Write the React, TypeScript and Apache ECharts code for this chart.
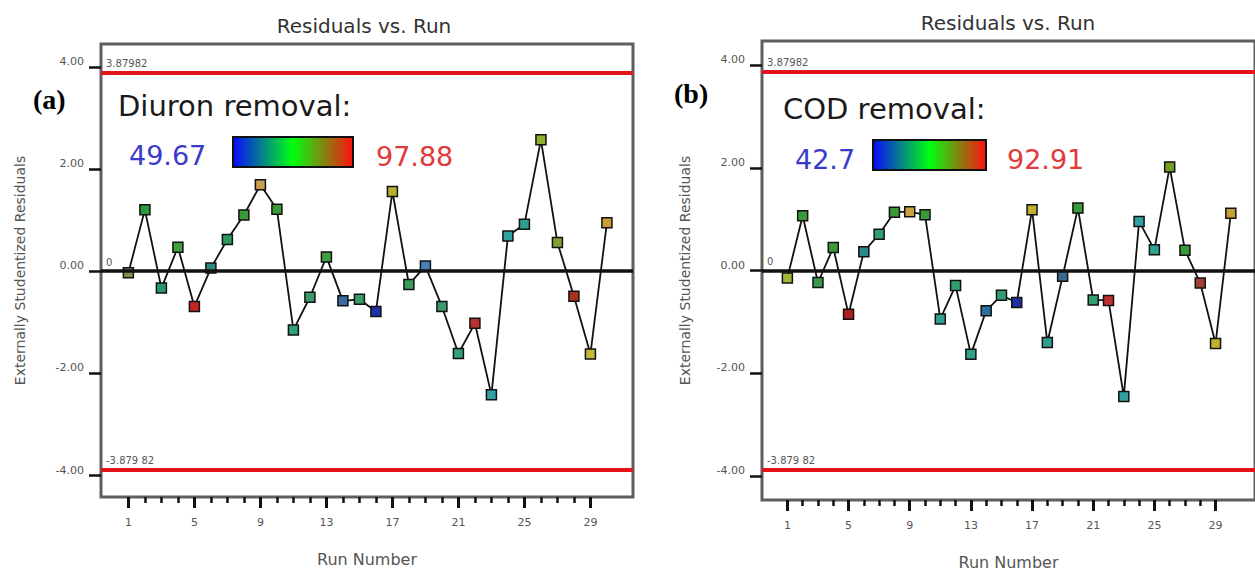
import React, { useEffect, useRef } from "react";
import * as echarts from "echarts";

const runs = [1, 2, 3, 4, 5, 6, 7, 8, 9, 10, 11, 12, 13, 14, 15, 16, 17, 18, 19, 20, 21, 22, 23, 24, 25, 26, 27, 28, 29, 30];
const diuronResiduals = [-0.03, 1.2, -0.33, 0.47, -0.69, 0.06, 0.62, 1.1, 1.69, 1.21, -1.15, -0.51, 0.28, -0.58, -0.55, -0.79, 1.56, -0.26, 0.1, -0.69, -1.61, -1.02, -2.42, 0.69, 0.92, 2.57, 0.56, -0.49, -1.62, 0.95];
const codResiduals = [-0.14, 1.07, -0.23, 0.45, -0.85, 0.37, 0.71, 1.14, 1.15, 1.09, -0.94, -0.29, -1.63, -0.78, -0.48, -0.62, 1.19, -1.4, -0.11, 1.22, -0.57, -0.58, -2.45, 0.96, 0.41, 2.02, 0.4, -0.24, -1.42, 1.12];
const diuronColors = ["#8a8a50", "#2e9a40", "#2a9a6a", "#40a040", "#c02828", "#2a8a80", "#2a9a5a", "#3a9a3a", "#c8a050", "#3a9a3a", "#30a080", "#3a9a6a", "#40a040", "#3a6aa0", "#3a9a6a", "#2030a8", "#b8b030", "#3a9a5a", "#4a80b8", "#3a9a6a", "#30a080", "#b83030", "#30a0a0", "#30a0a0", "#30a08a", "#90b030", "#80a030", "#a83020", "#c8b838", "#c8a030"];
const codColors = ["#a0b838", "#3a9a3a", "#3a9a4a", "#3a9a3a", "#b02020", "#2a8a8a", "#30a070", "#3a9a3a", "#c8a040", "#3a9a3a", "#30a090", "#30a070", "#30a08a", "#2a70a0", "#30a070", "#2030a0", "#c0b030", "#30a090", "#3a6a90", "#3a9a3a", "#30a070", "#c03030", "#30a0a0", "#30a0a0", "#30a090", "#70a020", "#3a9a3a", "#a04030", "#c0b030", "#c8a030"];
const yTicks = [-4, -2, 0, 2, 4];
const xMajorTicks = [1, 5, 9, 13, 17, 21, 25, 29];
const xMinorTicks = [1, 2, 3, 4, 5, 6, 7, 8, 9, 10, 11, 12, 13, 14, 15, 16, 17, 18, 19, 20, 21, 22, 23, 24, 25, 26, 27, 28, 29];
const upperLimit = 3.87982;
const lowerLimit = -3.87982;
const upperLimitLabel = "3.87982";
const lowerLimitLabel = "-3.879 82";
const diuronRange = ["49.67", "97.88"];
const codRange = ["42.7", "92.91"];

const FONT = "DejaVu Sans";

function makeAxes(gridIndex: number, yMin: number, yMax: number, nameGapY: number) {
  const xMajor = {
    type: "value",
    gridIndex,
    position: "bottom",
    min: -0.66,
    max: 31.58,
    axisLine: { show: false, onZero: false },
    splitLine: { show: false },
    axisTick: { show: true, length: 11, customValues: xMajorTicks, lineStyle: { color: "#111", width: 3 } },
    axisLabel: { show: true, customValues: xMajorTicks, margin: 20, fontSize: 11, color: "#555", fontFamily: FONT },
    name: "Run Number",
    nameLocation: "middle",
    nameGap: 54,
    nameTextStyle: { fontSize: 16, color: "#555", fontFamily: FONT },
  };
  const xMinor = {
    type: "value",
    gridIndex,
    position: "bottom",
    min: -0.66,
    max: 31.58,
    axisLine: { show: false, onZero: false },
    splitLine: { show: false },
    axisTick: { show: true, length: 6, customValues: xMinorTicks, lineStyle: { color: "#111", width: 2.5 } },
    axisLabel: { show: false },
  };
  const y = {
    type: "value",
    gridIndex,
    position: "left",
    min: yMin,
    max: yMax,
    axisLine: { show: false, onZero: false },
    splitLine: { show: false },
    axisTick: { show: true, length: 12, customValues: yTicks, lineStyle: { color: "#111", width: 2.5 } },
    axisLabel: {
      show: true,
      customValues: yTicks,
      formatter: (v: number) => v.toFixed(2),
      margin: 17,
      fontSize: 11,
      color: "#555",
      fontFamily: FONT,
      verticalAlign: "bottom",
    },
    name: "Externally Studentized Residuals",
    nameLocation: "middle",
    nameGap: nameGapY,
    nameTextStyle: { fontSize: 14, color: "#555", fontFamily: FONT },
  };
  return { xMajor, xMinor, y };
}

function refLines(gridIdx: number) {
  const lbl = { fontSize: 10, color: "#555", fontFamily: FONT, position: "insideStartTop", distance: [5, 4] };
  return {
    type: "line",
    xAxisIndex: gridIdx * 2,
    yAxisIndex: gridIdx,
    data: [],
    z: 1,
    silent: true,
    markLine: {
      silent: true,
      symbol: "none",
      animation: false,
      data: [
        { yAxis: upperLimit, lineStyle: { color: "#e3151b", width: 4, type: "solid" }, label: { ...lbl, formatter: upperLimitLabel } },
        { yAxis: lowerLimit, lineStyle: { color: "#e3151b", width: 4, type: "solid" }, label: { ...lbl, formatter: lowerLimitLabel } },
        { yAxis: 0, lineStyle: { color: "#111", width: 3.5, type: "solid" }, label: { ...lbl, formatter: "0" } },
      ],
    },
  };
}

function residualSeries(gridIdx: number, values: number[], colors: string[]) {
  return {
    type: "line",
    xAxisIndex: gridIdx * 2,
    yAxisIndex: gridIdx,
    z: 3,
    symbol: "rect",
    symbolSize: 10,
    lineStyle: { color: "#111", width: 1.8 },
    itemStyle: { borderColor: "#111", borderWidth: 1.5 },
    data: runs.map((r, i) => ({ value: [r, values[i]], itemStyle: { color: colors[i], borderColor: "#111", borderWidth: 1.5 } })),
  };
}

function gradientBar(x: number, y: number, w: number, h: number) {
  return {
    type: "rect",
    shape: { x, y, width: w, height: h },
    style: {
      fill: new echarts.graphic.LinearGradient(0, 0, 1, 0, [
        { offset: 0, color: "#0a0aff" },
        { offset: 0.5, color: "#00ff10" },
        { offset: 1, color: "#ff1010" },
      ]),
      stroke: "#111",
      lineWidth: 2,
    },
  };
}

function txt(text: string, x: number, y: number, fontSize: number, fill: string, extra: any = {}) {
  return {
    type: "text",
    x,
    y,
    style: {
      text,
      fill,
      fontSize,
      fontFamily: FONT,
      textAlign: "left",
      textVerticalAlign: "middle",
      ...extra,
    },
  };
}

export default function App() {
  const ref = useRef<HTMLDivElement>(null);
  useEffect(() => {
    if (!ref.current) return;
    const chart = echarts.init(ref.current, undefined, { renderer: "svg" });
    const a = makeAxes(0, -4.419, 4.446, 74);
    const b = makeAxes(1, -4.468, 4.476, 70);
    chart.setOption({
      animation: false,
      backgroundColor: "#ffffff",
      grid: [
        { left: 101, top: 44, width: 532, height: 453, show: true, borderColor: "#5f5f5f", borderWidth: 3, backgroundColor: "transparent" },
        { left: 762, top: 41, width: 498, height: 466, show: true, borderColor: "#5f5f5f", borderWidth: 3, backgroundColor: "transparent" },
      ],
      xAxis: [a.xMajor, a.xMinor, b.xMajor, b.xMinor],
      yAxis: [a.y, b.y],
      series: [refLines(0), refLines(1), residualSeries(0, diuronResiduals, diuronColors), residualSeries(1, codResiduals, codColors)],
      graphic: [
        txt("Residuals vs. Run", 364, 26, 20, "#333", { textAlign: "center" }),
        txt("Residuals vs. Run", 1008, 23, 20, "#333", { textAlign: "center" }),
        txt("(a)", 33, 99, 28, "#000", { fontFamily: "Liberation Serif", fontWeight: "bold" }),
        txt("(b)", 674, 93, 28, "#000", { fontFamily: "Liberation Serif", fontWeight: "bold" }),
        txt("Diuron removal:", 118, 106, 29, "#1a1a1a"),
        txt(diuronRange[0], 129, 155, 27, "#3a3acc"),
        gradientBar(233, 137, 120, 30),
        txt(diuronRange[1], 376, 156, 27, "#e03a3a"),
        txt("COD removal:", 783, 109, 29, "#1a1a1a"),
        txt(codRange[0], 795, 159, 27, "#3a3acc"),
        gradientBar(873, 140, 113, 30),
        txt(codRange[1], 1007, 159, 27, "#e03a3a"),
      ],
    });
    return () => chart.dispose();
  }, []);
  return <div ref={ref} style={{ position: "absolute", left: 0, top: 0, width: 1255, height: 575, background: "#fff" }} />;
}
